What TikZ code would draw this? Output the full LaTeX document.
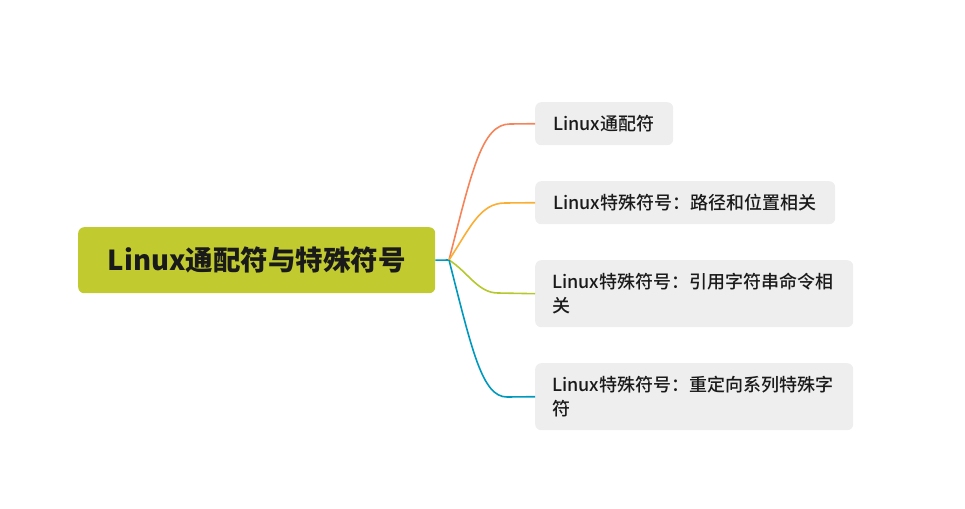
\documentclass[tikz,border=0pt]{standalone}
\usepackage{fontspec}
\setmainfont{Noto Sans CJK SC}
\newfontfamily\cjkmed{Noto Sans CJK SC Medium}
\definecolor{rootc}{HTML}{C1CB2F}
\definecolor{leafc}{HTML}{EEEEEE}
\definecolor{txtc}{HTML}{1A1A1A}
\definecolor{c1}{HTML}{F5845A}
\definecolor{c2}{HTML}{FBAE34}
\definecolor{c3}{HTML}{B5C82C}
\definecolor{c4}{HTML}{0099BE}
\begin{document}
\begin{tikzpicture}[x=1pt,y=-1pt,
  rootbox/.style={fill=rootc,rounded corners=6pt,minimum width=357pt,minimum height=66pt,inner sep=0pt,font=\fontsize{27.5}{32}\selectfont\bfseries,text=txtc,anchor=north west},
  leafbox/.style={fill=leafc,rounded corners=6pt,inner sep=0pt,font=\cjkmed\fontsize{18}{24}\selectfont,text=txtc,anchor=north west,align=left},
  conn/.style={line width=1.6pt}]
\useasboundingbox (0,0) rectangle (965,508);
\node[rootbox] (root) at (78,227) {Linux通配符与特殊符号};
\node[leafbox,minimum width=138pt,minimum height=43pt,text width=102pt] (n1) at (535,102) {Linux通配符};
\node[leafbox,minimum width=300pt,minimum height=43pt,text width=264pt] (n2) at (535,181) {Linux特殊符号：路径和位置相关};
\node[leafbox,minimum width=318pt,minimum height=67pt,text width=284pt] (n3) at (535,260) {Linux特殊符号：引用字符串命令相\\关};
\node[leafbox,minimum width=318pt,minimum height=67pt,text width=284pt] (n4) at (535,363) {Linux特殊符号：重定向系列特殊字\\符};
\coordinate (hub) at (449,260);
\draw[conn,c4] (root.east) -- (hub);
\draw[conn,c1] (hub) .. controls (472,170) and (482,124) .. (510,124) -- (n1.west);
\draw[conn,c2] (hub) .. controls (470,228) and (480,203) .. (505,203) -- (n2.west);
\draw[conn,c3] (hub) .. controls (468,272) and (478,293) .. (498,293) -- (n3.west);
\draw[conn,c4] (hub) .. controls (472,350) and (482,397) .. (507,397) -- (n4.west);
\end{tikzpicture}
\end{document}
